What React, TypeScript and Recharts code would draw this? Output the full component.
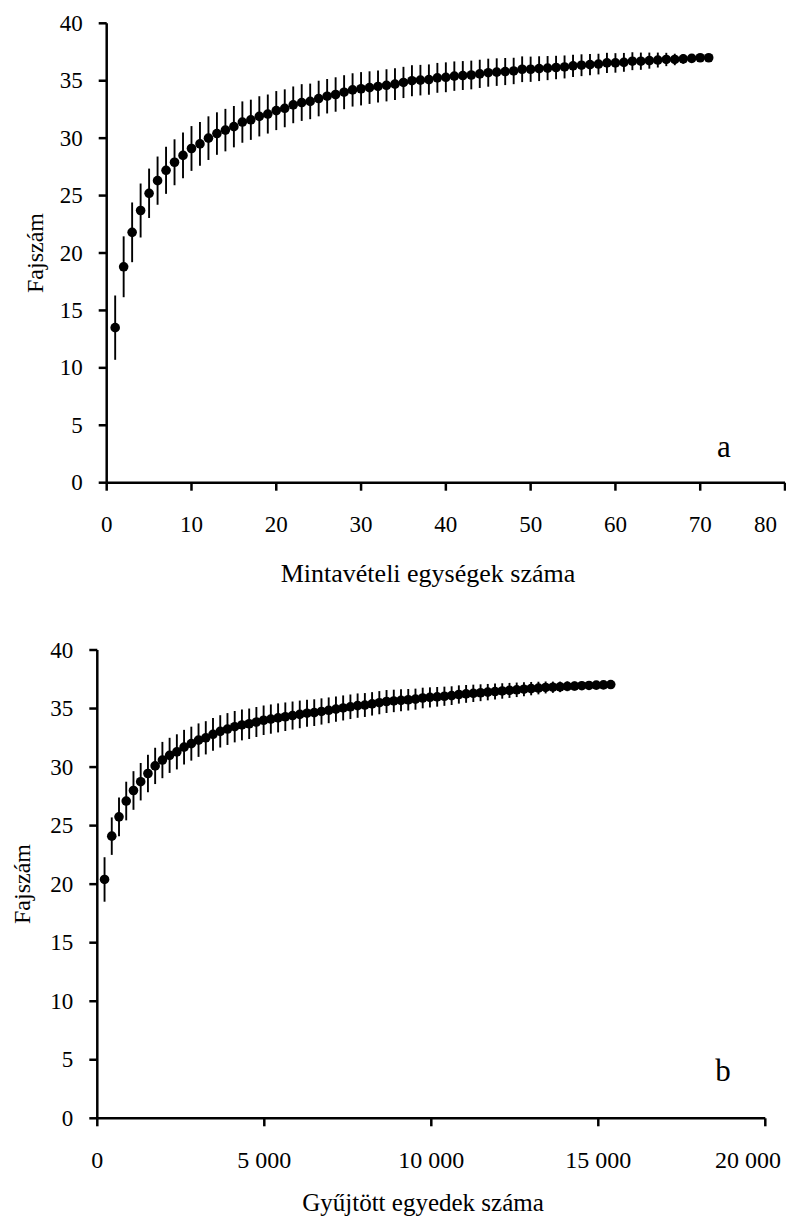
import { ScatterChart, Scatter, XAxis, YAxis, ErrorBar, Label } from "recharts";

const FONT = '"Liberation Serif", "Times New Roman", Times, serif';

// Fajszám vs. mintavételi egységek (sample-based rarefaction)
const samplesA = [
  1, 2, 3, 4, 5, 6, 7, 8, 9, 10, 11, 12, 13, 14, 15, 16, 17, 18, 19, 20, 21, 22, 23, 24,
  25, 26, 27, 28, 29, 30, 31, 32, 33, 34, 35, 36, 37, 38, 39, 40, 41, 42, 43, 44, 45, 46,
  47, 48, 49, 50, 51, 52, 53, 54, 55, 56, 57, 58, 59, 60, 61, 62, 63, 64, 65, 66, 67, 68,
  69, 70, 71,
];
const speciesA = [
  13.5, 18.8, 21.8, 23.7, 25.2, 26.3, 27.2, 27.9, 28.5, 29.1, 29.5, 30.0, 30.4, 30.7, 31.0,
  31.4, 31.6, 31.9, 32.1, 32.4, 32.6, 32.9, 33.1, 33.2, 33.45, 33.65, 33.8, 34.0, 34.2, 34.3,
  34.4, 34.5, 34.6, 34.7, 34.85, 35.0, 35.05, 35.1, 35.25, 35.3, 35.4, 35.45, 35.5, 35.6,
  35.7, 35.75, 35.8, 35.85, 36.0, 36.0, 36.05, 36.1, 36.15, 36.2, 36.3, 36.35, 36.4, 36.45,
  36.55, 36.55, 36.6, 36.7, 36.7, 36.75, 36.8, 36.85, 36.85, 36.9, 36.95, 37.0, 37.0,
];
const sdA = [
  2.8, 2.65, 2.6, 2.35, 2.15, 2.1, 2.05, 2.0, 2.0, 1.95, 1.9, 1.9, 1.85, 1.85, 1.8, 1.8,
  1.75, 1.75, 1.7, 1.7, 1.65, 1.6, 1.6, 1.55, 1.55, 1.5, 1.5, 1.48, 1.45, 1.45, 1.42, 1.4,
  1.4, 1.38, 1.36, 1.35, 1.33, 1.32, 1.3, 1.3, 1.28, 1.26, 1.25, 1.23, 1.22, 1.2, 1.18,
  1.15, 1.12, 1.1, 1.08, 1.05, 1.02, 1.0, 0.97, 0.95, 0.92, 0.9, 0.88, 0.85, 0.82, 0.78,
  0.75, 0.7, 0.65, 0.58, 0.5, 0.42, 0.32, 0.2, 0,
];

// Fajszám vs. gyűjtött egyedek (mean individuals per sample count)
const individualsB = [
  217, 433, 650, 866, 1083, 1299, 1516, 1732, 1949, 2165, 2382, 2598, 2815, 3031, 3248,
  3464, 3681, 3897, 4114, 4330, 4547, 4763, 4980, 5196, 5413, 5629, 5846, 6062, 6279, 6495,
  6712, 6928, 7145, 7361, 7578, 7794, 8011, 8227, 8444, 8660, 8877, 9093, 9310, 9526, 9743,
  9959, 10176, 10392, 10609, 10825, 11042, 11258, 11475, 11691, 11908, 12124, 12341, 12557,
  12774, 12990, 13207, 13423, 13640, 13856, 14073, 14289, 14506, 14722, 14939, 15155, 15372,
];
const speciesB = [
  20.4, 24.1, 25.75, 27.1, 28.0, 28.75, 29.45, 30.1, 30.6, 31.0, 31.3, 31.7, 32.0, 32.3,
  32.5, 32.8, 33.05, 33.25, 33.45, 33.6, 33.7, 33.85, 34.0, 34.1, 34.2, 34.3, 34.4, 34.5,
  34.6, 34.65, 34.75, 34.85, 34.95, 35.05, 35.15, 35.25, 35.3, 35.4, 35.5, 35.6, 35.65,
  35.7, 35.75, 35.8, 35.9, 35.95, 36.0, 36.05, 36.1, 36.2, 36.25, 36.3, 36.35, 36.4, 36.45,
  36.5, 36.55, 36.6, 36.65, 36.7, 36.75, 36.8, 36.82, 36.85, 36.9, 36.92, 36.95, 36.97,
  37.0, 37.02, 37.05,
];
const sdB = [
  1.9, 1.6, 1.65, 1.65, 1.65, 1.6, 1.6, 1.55, 1.55, 1.5, 1.5, 1.48, 1.45, 1.43, 1.42, 1.4,
  1.38, 1.36, 1.34, 1.32, 1.3, 1.28, 1.26, 1.25, 1.24, 1.22, 1.2, 1.18, 1.16, 1.14, 1.12,
  1.1, 1.08, 1.07, 1.05, 1.04, 1.02, 1.0, 0.99, 0.98, 0.96, 0.94, 0.92, 0.9, 0.88, 0.86,
  0.84, 0.82, 0.8, 0.78, 0.76, 0.74, 0.72, 0.7, 0.68, 0.66, 0.64, 0.62, 0.6, 0.57, 0.54,
  0.51, 0.48, 0.45, 0.42, 0.38, 0.34, 0.3, 0.24, 0.16, 0,
];

const yTicks = [0, 5, 10, 15, 20, 25, 30, 35, 40];
const xTicksA = [0, 10, 20, 30, 40, 50, 60, 70, 80];
const xTicksB = [0, 5000, 10000, 15000, 20000];

const yTitle = "Fajszám";
const xTitleA = "Mintavételi egységek száma";
const xTitleB = "Gyűjtött egyedek száma";

const rowsA = samplesA.map((x, i) => ({ x, y: speciesA[i], sd: sdA[i] }));
const rowsB = individualsB.map((x, i) => ({ x, y: speciesB[i], sd: sdB[i] }));

const thousands = (v: number) => String(v).replace(/\B(?=(\d{3})+(?!\d))/g, " ");

const axisLine = { stroke: "#000", strokeWidth: 2.5 };
const tickLine = { stroke: "#000", strokeWidth: 2.5 };

const dot = (p: any) => <circle cx={p.cx} cy={p.cy} r={4.8} fill="#000" />;

interface PanelProps {
  rows: { x: number; y: number; sd: number }[];
  width: number;
  height: number;
  margin: { top: number; right: number; bottom: number; left: number };
  yAxisWidth: number;
  xMax: number;
  xTicks: number[];
  fmt: (v: number) => string;
  lastTickEdge: number;
  tickDy: number;
  xTickSize: number;
  xTitle: string;
  xTitleSize: number;
  xTitlePos: [number, number];
  yTitlePos: [number, number];
  letter: string;
  letterPos: [number, number];
}

function Panel(props: PanelProps) {
  const { rows, xMax, fmt, lastTickEdge, tickDy } = props;
  const txt = { fontFamily: FONT };

  const bottomTick = (p: any) => {
    const last = p.payload.value === xMax;
    return (
      <text
        x={last ? lastTickEdge : p.x}
        y={p.y + tickDy}
        textAnchor={last ? "end" : "middle"}
        style={txt}
        fontSize={props.xTickSize}
        fill="#000"
      >
        {fmt(p.payload.value)}
      </text>
    );
  };

  const leftTick = (p: any) => (
    <text x={p.x - 16} y={p.y + 7.5} textAnchor="end" style={txt} fontSize={23} fill="#000">
      {p.payload.value}
    </text>
  );

  return (
    <ScatterChart width={props.width} height={props.height} margin={props.margin}>
      <XAxis
        type="number"
        dataKey="x"
        domain={[0, xMax]}
        ticks={props.xTicks}
        interval={0}
        height={60}
        tickSize={8}
        tickMargin={0}
        axisLine={axisLine}
        tickLine={tickLine}
        tick={bottomTick}
      >
        <Label
          content={() => (
            <g style={txt} fill="#000">
              <text
                x={props.xTitlePos[0]}
                y={props.xTitlePos[1]}
                textAnchor="middle"
                fontSize={props.xTitleSize}
              >
                {props.xTitle}
              </text>
              <text x={props.letterPos[0]} y={props.letterPos[1]} textAnchor="middle" fontSize={31}>
                {props.letter}
              </text>
            </g>
          )}
        />
      </XAxis>
      <YAxis
        type="number"
        dataKey="y"
        domain={[0, 40]}
        ticks={yTicks}
        interval={0}
        width={props.yAxisWidth}
        tickSize={8}
        tickMargin={0}
        axisLine={axisLine}
        tickLine={tickLine}
        tick={leftTick}
      >
        <Label
          content={() => (
            <text
              x={props.yTitlePos[0]}
              y={props.yTitlePos[1]}
              transform={`rotate(-90 ${props.yTitlePos[0]} ${props.yTitlePos[1]})`}
              textAnchor="middle"
              style={txt}
              fontSize={24}
              fill="#000"
            >
              {yTitle}
            </text>
          )}
        />
      </YAxis>
      <Scatter data={rows} fill="#000" shape={dot} isAnimationActive={false}>
        <ErrorBar
          dataKey="sd"
          direction="y"
          width={0}
          stroke="#000"
          strokeWidth={1.9}
          isAnimationActive={false}
        />
      </Scatter>
    </ScatterChart>
  );
}

export default function App() {
  return (
    <div style={{ position: "absolute", left: 0, top: 0, width: 786, height: 1221, background: "#fff" }}>
      <div style={{ position: "absolute", left: 0, top: 0 }}>
        <Panel
          rows={rowsA}
          width={786}
          height={610}
          margin={{ top: 23.3, right: 1, bottom: 67.3, left: 0 }}
          yAxisWidth={106.7}
          xMax={80}
          xTicks={xTicksA}
          fmt={(v) => String(v)}
          lastTickEdge={777}
          tickDy={41}
          xTickSize={23}
          xTitle={xTitleA}
          xTitleSize={26}
          xTitlePos={[428, 582]}
          yTitlePos={[43, 253]}
          letter="a"
          letterPos={[724, 457]}
        />
      </div>
      <div style={{ position: "absolute", left: 0, top: 610 }}>
        <Panel
          rows={rowsB}
          width={786}
          height={611}
          margin={{ top: 40, right: 20.7, bottom: 42.7, left: 0 }}
          yAxisWidth={97.3}
          xMax={20000}
          xTicks={xTicksB}
          fmt={thousands}
          lastTickEdge={781}
          tickDy={42}
          xTickSize={24}
          xTitle={xTitleB}
          xTitleSize={25}
          xTitlePos={[423, 601]}
          yTitlePos={[30, 274]}
          letter="b"
          letterPos={[723, 471]}
        />
      </div>
    </div>
  );
}
